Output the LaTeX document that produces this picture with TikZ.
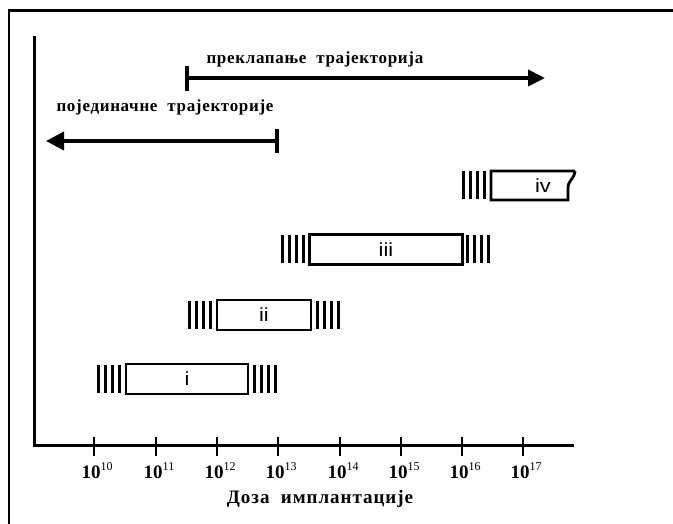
\documentclass[tikz,border=0pt]{standalone}
\usepackage{fontspec}
\setmainfont{Liberation Serif}
\newfontfamily\arialfont{Liberation Sans}
\usetikzlibrary{arrows.meta}
\newcommand{\powlab}[1]{\textbf{10}\raisebox{7.5pt}{\fontsize{12}{12}\selectfont #1}}
\begin{document}
\begin{tikzpicture}[x=1pt,y=-1pt,
  frameline/.style={line width=2.2pt},
  axisline/.style={line width=3pt, line join=miter},
  tickmark/.style={line width=2.6pt},
  doserange/.style={draw, line width=2.8pt, inner sep=0pt, minimum height=30pt},
  hatchbar/.style={line width=3pt},
  arrowline/.style={line width=4pt},
  endbar/.style={line width=3.5pt},
  romanlab/.style={font=\arialfont\fontsize{19}{19}\selectfont, xscale=1.15},
  powerlab/.style={anchor=base, font=\fontsize{19}{19}\selectfont},
  captionlab/.style={anchor=base west, font=\bfseries\fontsize{17}{17}\selectfont\addfontfeature{LetterSpace=4}},
  axislab/.style={anchor=base, font=\bfseries\fontsize{19}{19}\selectfont\addfontfeature{LetterSpace=5}}
]
\useasboundingbox (0,0) rectangle (673,524);
% frame
\draw[frameline] (9,524) -- (9,10.5) -- (673,10.5);
% axes
\coordinate (ytop) at (34,36);
\coordinate (origin) at (34,445);
\coordinate (xend) at (574,445);
\draw[axisline] (ytop) -- (origin) -- (xend);
% ticks and labels
\foreach \xx/\ee in {94/10,156/11,217/12,278/13,340/14,401/15,462/16,523/17}{
  \draw[tickmark] (\xx,437) -- (\xx,456);
  \node[powerlab] (t\ee) at (\xx+3,478) {\powlab{\ee}};
}
\node[axislab] (xlab) at (320,503) {Доза\ \ имплантације};
% arrows
\coordinate (ovs) at (187,78);
\coordinate (ove) at (545,78);
\draw[arrowline,-{Triangle[length=17pt,width=16pt]}] (ovs) -- (ove);
\draw[endbar] (187,66) -- (187,91);
\node[captionlab] (ovl) at (203,64) {преклапање\ \ трајекторија};
\coordinate (ins) at (278,141);
\coordinate (ine) at (46,141);
\draw[arrowline,-{Triangle[length=18pt,width=18pt]}] (ins) -- (ine);
\draw[endbar] (277,129) -- (277,153);
\node[captionlab] (inl) at (53,112) {појединачне\ \ трајекторије};
% boxes
\node[doserange, minimum width=122pt] (bi) at (187,379) {};
\node[romanlab] at (bi.center) {i};
\node[doserange, minimum width=94pt] (bii) at (264,315) {};
\node[romanlab] at (bii.center) {ii};
\node[doserange, minimum width=153pt] (biii) at (386,249.5) {};
\node[romanlab] at (biii.center) {iii};
\draw[line width=2.8pt, line join=miter] (575,171) -- (491,171) -- (491,200) -- (568,200)
   -- (568,188) .. controls (568,180) and (574,180) .. (575,171);
\node[romanlab] (biv) at (543,186) {iv};
% hatches
\foreach \hx/\hy in {98/379,254/379,189/315,317/315,282/249.5,467/249.5,463/185.5}{
  \foreach \k in {0,1,2,3}{
    \draw[hatchbar] (\hx+\k*7.3,\hy-14) -- (\hx+\k*7.3,\hy+14);
  }
}
\end{tikzpicture}
\end{document}
